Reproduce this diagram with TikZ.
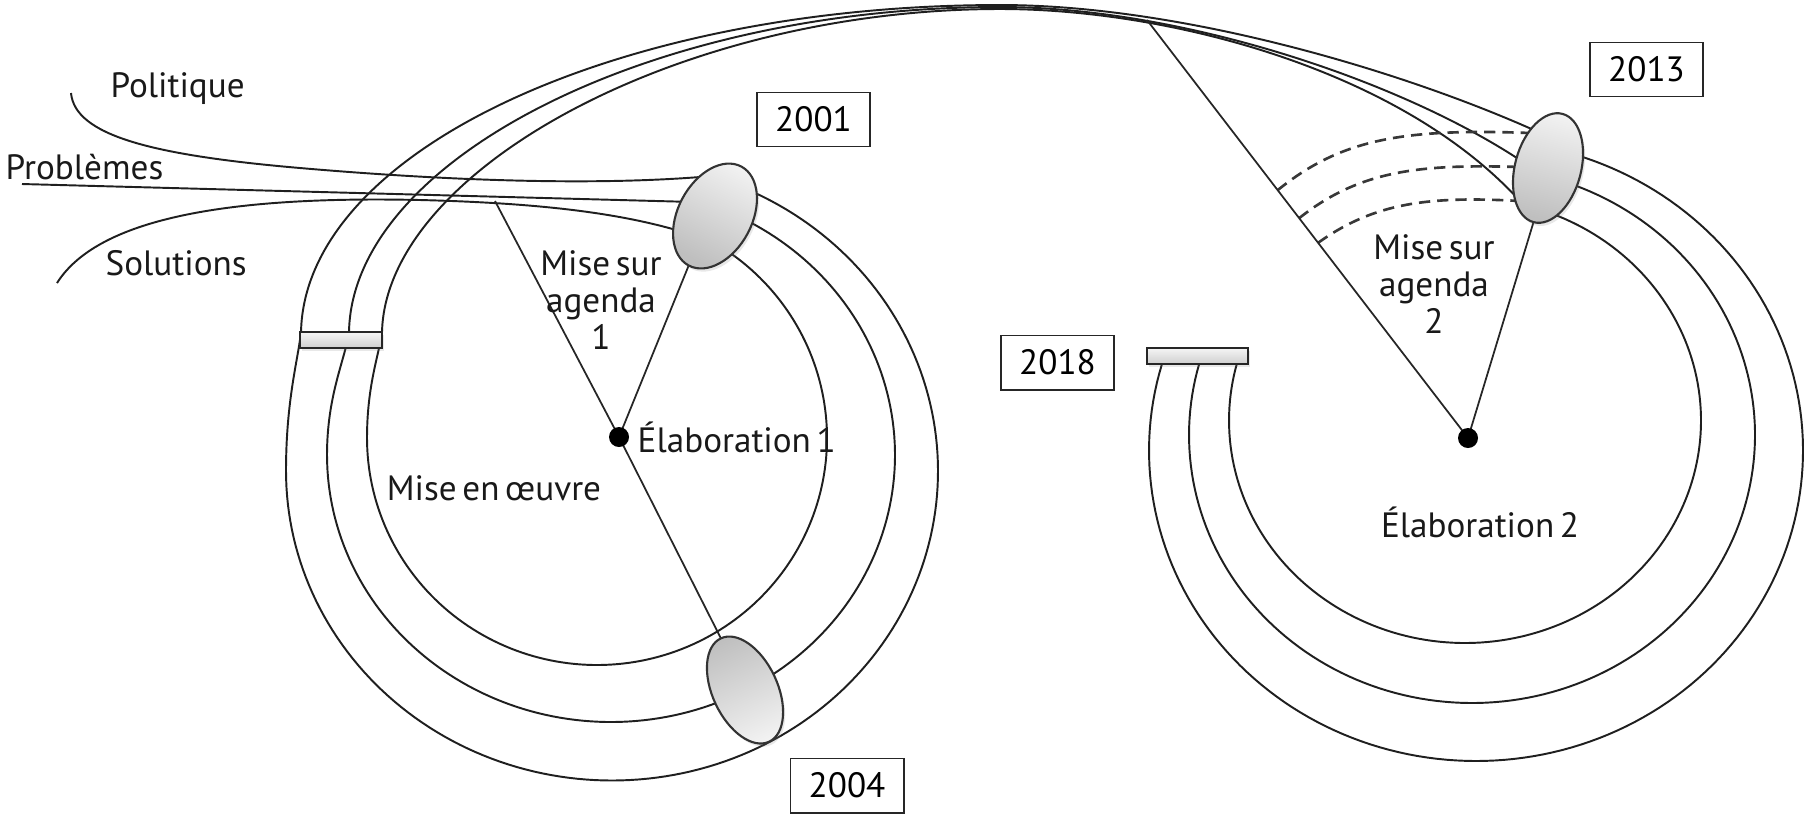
\documentclass[tikz,border=0pt]{standalone}
\usepackage{fontspec}
\setmainfont{PT Sans}[WordSpace=0.6]
\usetikzlibrary{shapes.geometric,shadows,calc}
\pgfdeclarelayer{back}
\pgfsetlayers{back,main}
\begin{document}
\begin{tikzpicture}[x=0.01cm,y=-0.01cm,
  stream/.style={line width=0.55pt,draw=black!88},
  link/.style={line width=0.5pt,draw=black!85},
  dashedarc/.style={line width=0.75pt,draw=black!78,dash pattern=on 3.2pt off 2pt},
  lbl/.style={font=\fontsize{10}{10.6}\selectfont,text=black!90,inner sep=0pt},
  blob/.style={ellipse,draw=black!80,line width=0.6pt,inner sep=0pt,outer sep=0pt,
    shading=axis,top color=gray!10,bottom color=gray!50,
    drop shadow={opacity=0.18,shadow xshift=0.6pt,shadow yshift=-0.9pt}},
  gate/.style={rectangle,draw=black!85,line width=0.55pt,inner sep=0pt,outer sep=0pt,
    top color=gray!8,bottom color=gray!38,
    drop shadow={opacity=0.18,shadow xshift=0.5pt,shadow yshift=-0.8pt}},
  yearbox/.style={rectangle,draw=black!85,line width=0.55pt,fill=white,inner sep=0pt,
    minimum width=1.13cm,minimum height=0.54cm,font=\fontsize{10}{12}\selectfont},
  dot/.style={circle,fill=black,inner sep=0pt,minimum size=0.2cm}]

\useasboundingbox (0,0) rectangle (1807,817);

% ---- windows of opportunity (ellipses) and gates (bars)
\node[blob,minimum width=1.12cm,minimum height=0.74cm,rotate=62,shading angle=-28] (e2001) at (715,216) {};
\node[blob,minimum width=1.14cm,minimum height=0.65cm,rotate=-65,shading angle=-155] (e2004) at (745,690) {};
\node[blob,minimum width=1.12cm,minimum height=0.66cm,rotate=75,shading angle=-15] (e2013) at (1548,168) {};
\node[gate,minimum width=0.82cm,minimum height=0.16cm] (g1) at (341,340) {};
\node[gate,minimum width=1.01cm,minimum height=0.16cm] (g2) at (1197.5,356) {};

% ---- centres of the two elaboration phases
\node[dot] (d1) at (619,437) {};
\node[dot] (d2) at (1468,438) {};

% ---- year labels
\node[yearbox] (b2001) at (813.5,119.5) {2001};
\node[yearbox] (b2013) at (1646.5,69.5) {2013};
\node[yearbox] (b2018) at (1057.5,362.5) {2018};
\node[yearbox] (b2004) at (847,785.5) {2004};

% ---- texts
\node[lbl,anchor=base west] (tpol) at (110,97) {Politique};
\node[lbl,anchor=base west] (tpro) at (5,179) {Problèmes};
\node[lbl,anchor=base west] (tsol) at (105,275) {Solutions};
\node[lbl,align=center] (tag1) at (601,300) {Mise sur\\agenda\\1};
\node[lbl,anchor=base west] (tel1) at (637,452) {Élaboration 1};
\node[lbl,anchor=base] (tmo) at (494,500) {Mise en œuvre};
\node[lbl,align=center] (tag2) at (1434,284) {Mise sur\\agenda\\2};
\node[lbl,anchor=base] (tel2) at (1480,537) {Élaboration 2};

\coordinate (s1) at (495,201);
\coordinate (a2top) at (1147,20);

\begin{pgfonlayer}{back}
  % the three streams feeding the first window
  \draw[stream] (71,93) .. controls (75,135) and (150,155) .. (300,168)
     .. controls (450,181) and (600,186) .. (712,176);
  \draw[stream] (22,184) -- (694,202);
  \draw[stream] (57,283) .. controls (100,215) and (240,196) .. (420,200)
     .. controls (540,203) and (620,213) .. (683,232);

  % first loop: out of 2001, round through 2004, up through the gate and over to 2013
  \draw[stream] plot[domain=-67:180,samples=160,variable=\t] ({612+326*cos(\t)},{471+309.5*sin(\t)})
     .. controls (286,400) and (298,360) .. (301,332)
     .. controls (305,150) and (620,5) .. (1000,5)
     .. controls (1180,5) and (1400,70) .. (1536,131);
  \draw[stream] plot[domain=-64:180,samples=160,variable=\t] ({611+284*cos(\t)},{455+267*sin(\t)})
     .. controls (327,395) and (345,360) .. (349,332)
     .. controls (352,160) and (650,7) .. (1000,7)
     .. controls (1180,7) and (1400,80) .. (1523,162);
  \draw[stream] plot[domain=-60:180,samples=160,variable=\t] ({597+230*cos(\t)},{438+227*sin(\t)})
     .. controls (367,385) and (379,355) .. (382,332)
     .. controls (386,170) and (680,9) .. (1000,9)
     .. controls (1170,9) and (1400,70) .. (1519,200);

  % second loop: out of 2013, round to the 2018 gate
  \draw[stream] plot[domain=-74:197.7,samples=160,variable=\t] ({1476+327*cos(\t)},{450.5+310.5*sin(\t)});
  \draw[stream] plot[domain=-72:197.1,samples=160,variable=\t] ({1472+283*cos(\t)},{435+268*sin(\t)});
  \draw[stream] plot[domain=-70:196.9,samples=160,variable=\t] ({1465+236*cos(\t)},{420.5+222.5*sin(\t)});

  % dashed streams into the 2013 window
  \draw[dashedarc] ($(a2top)!0.407!(d2)$) .. controls (1340,140) and (1400,128) .. (1530,133);
  \draw[dashedarc] ($(a2top)!0.474!(d2)$) .. controls (1360,170) and (1420,164) .. (1520,167);
  \draw[dashedarc] ($(a2top)!0.533!(d2)$) .. controls (1375,202) and (1430,196) .. (1520,201);

  % sectors
  \draw[link] (s1) -- (d1.center) -- (e2004.west);
  \draw[link] (e2001.west) -- (d1.center);
  \draw[link] (a2top) -- (d2.center);
  \draw[link] (e2013.west) -- (d2.center);
\end{pgfonlayer}
\end{tikzpicture}
\end{document}
